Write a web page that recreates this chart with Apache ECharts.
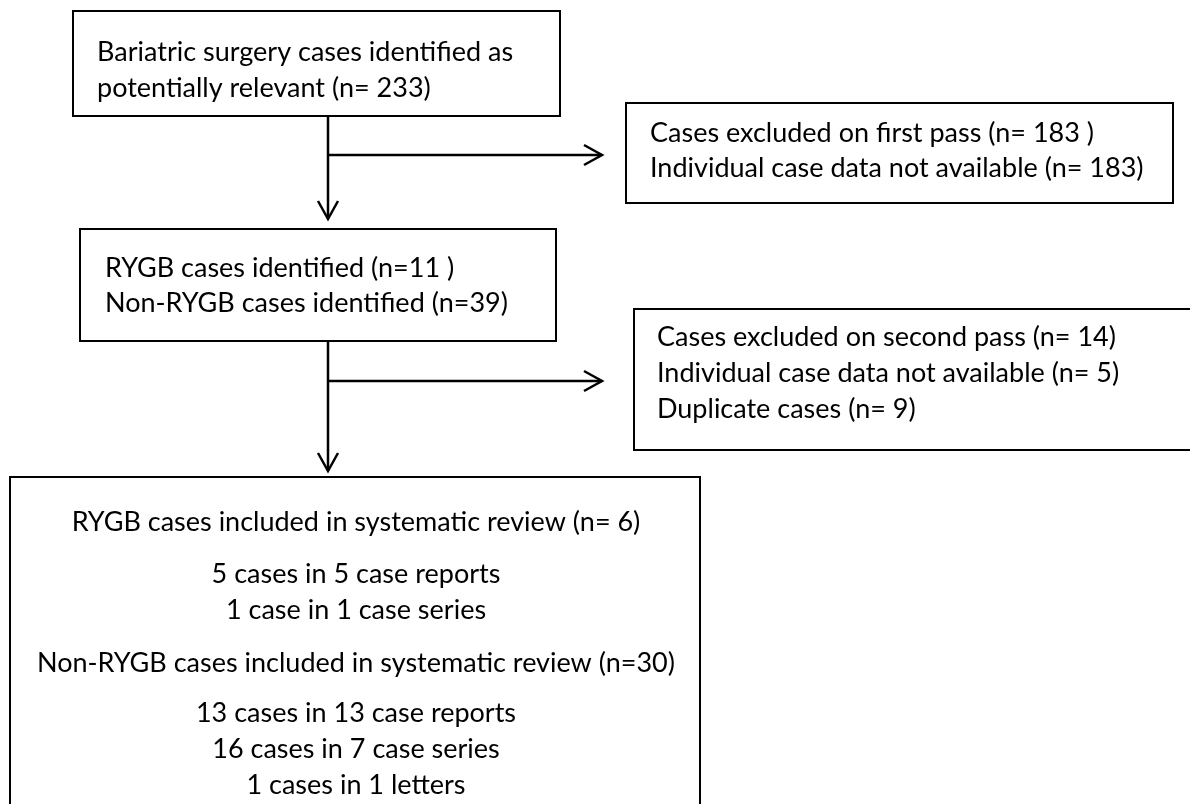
<!DOCTYPE html>
<html>
<head>
<meta charset="utf-8">
<script src="https://cdn.jsdelivr.net/npm/echarts@6/dist/echarts.min.js"></script>
<style>html,body{margin:0;padding:0;background:#fff;}#c{width:1190px;height:804px;}</style>
</head>
<body>
<div id="c"></div>
<script>
// ---- data: text of each flowchart box ----
const identifiedLines = ["Bariatric surgery cases identified as", "potentially relevant (n= 233)"];
const firstPassLines = ["Cases excluded on first pass (n= 183 )", "Individual case data not available (n= 183)"];
const screenedLines = ["RYGB cases identified (n=11 )", "Non-RYGB cases identified (n=39)"];
const secondPassLines = ["Cases excluded on second pass (n= 14)", "Individual case data not available (n= 5)", "Duplicate cases (n= 9)"];
const includedLines = [
  "RYGB cases included in systematic review (n= 6)",
  "5 cases in 5 case reports",
  "1 case in 1 case series",
  "Non-RYGB cases included in systematic review (n=30)",
  "13 cases in 13 case reports",
  "16 cases in 7 case series",
  "1 cases in 1 letters"
];
const boxTexts = [identifiedLines, firstPassLines, screenedLines, secondPassLines, includedLines];

// ---- layout (diagram coordinates, same units as the hidden axes) ----
const boxLayout = [
  {rect: [73, 11, 560, 116], tx: 97, align: 'left', ys: [52, 88]},
  {rect: [626, 103, 1173, 203], tx: 650, align: 'left', ys: [133, 168]},
  {rect: [80, 229, 556, 341], tx: 105, align: 'left', ys: [268, 303]},
  {rect: [634, 309, 1205, 450], tx: 657, align: 'left', ys: [337, 373, 409]},
  {rect: [10, 477, 700, 830], tx: 356, align: 'center', ys: [522, 574, 610, 663, 713, 749, 785]}
];
const arrowLayout = [
  [[328, 116], [328, 219]],
  [[328, 155], [602, 155]],
  [[328, 341], [328, 471]],
  [[328, 381], [602, 381]]
];
const FONT = '27px Lato';

const chart = echarts.init(document.getElementById('c'), null, {renderer: 'canvas'});

function renderBox(params, api) {
  const i = api.value(0);
  const L = boxLayout[i];
  const p0 = api.coord([L.rect[0], L.rect[1]]);
  const p1 = api.coord([L.rect[2], L.rect[3]]);
  const children = [{
    type: 'rect',
    shape: {x: p0[0], y: p0[1], width: p1[0] - p0[0], height: p1[1] - p0[1]},
    style: {fill: '#fff', stroke: '#000', lineWidth: 2}
  }];
  boxTexts[i].forEach((t, k) => {
    const p = api.coord([L.tx, L.ys[k]]);
    children.push({
      type: 'text',
      style: {text: t, x: p[0], y: p[1], font: FONT, fill: '#000', align: L.align, verticalAlign: 'middle'}
    });
  });
  return {type: 'group', children};
}

function renderArrow(params, api) {
  const i = api.value(0);
  const [a, b] = arrowLayout[i];
  const s = api.coord(a), e = api.coord(b);
  const dx = e[0] - s[0], dy = e[1] - s[1];
  const len = Math.hypot(dx, dy);
  const ux = dx / len, uy = dy / len;
  const head = 18, half = 10;
  const left = [e[0] - ux * head - uy * half, e[1] - uy * head + ux * half];
  const right = [e[0] - ux * head + uy * half, e[1] - uy * head - ux * half];
  return {
    type: 'group',
    children: [
      {type: 'line', shape: {x1: s[0], y1: s[1], x2: e[0], y2: e[1]}, style: {stroke: '#000', lineWidth: 2.5}},
      {type: 'polyline', shape: {points: [left, e, right]}, style: {stroke: '#000', fill: null, lineWidth: 2.5}}
    ]
  };
}

chart.setOption({
  animation: false,
  backgroundColor: '#fff',
  grid: {left: 0, right: 0, top: 0, bottom: 0},
  xAxis: {type: 'value', min: 0, max: 1190, show: false},
  yAxis: {type: 'value', min: 0, max: 804, inverse: true, show: false},
  series: [
    {type: 'custom', coordinateSystem: 'cartesian2d', clip: true, renderItem: renderArrow,
     data: arrowLayout.map((_, i) => [i])},
    {type: 'custom', coordinateSystem: 'cartesian2d', clip: true, renderItem: renderBox,
     data: boxTexts.map((_, i) => [i])}
  ]
});
</script>
</body>
</html>
